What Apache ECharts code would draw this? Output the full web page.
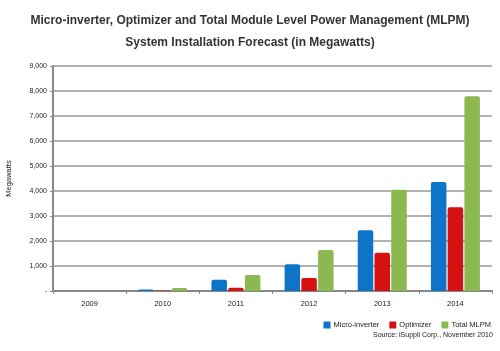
<!DOCTYPE html>
<html><head><meta charset="utf-8">
<script src="https://cdn.jsdelivr.net/npm/echarts@6/dist/echarts.min.js"></script>
<style>html,body{margin:0;padding:0;background:#fff}#c{width:500px;height:351px}</style>
</head><body><div id="c"></div>
<script>
const categories = ['2009','2010','2011','2012','2013','2014'];
const microInverter = [0, 60, 450, 1070, 2430, 4360];
const optimizer = [0, 20, 130, 520, 1530, 3350];
const totalMLPM = [0, 120, 640, 1640, 4050, 7790];
const yTicks = [0, 1000, 2000, 3000, 4000, 5000, 6000, 7000, 8000, 9000];

const chart = echarts.init(document.getElementById('c'), null, {renderer:'canvas'});
const FONT = 'Liberation Sans, Arial, sans-serif';
chart.setOption({
  animation: false,
  backgroundColor: '#fff',
  title: {
    text: 'Micro-inverter, Optimizer and Total Module Level Power Management (MLPM)\nSystem Installation Forecast (in Megawatts)',
    left: 'center', top: 5,
    textStyle: {fontFamily: FONT, fontSize: 12, fontWeight: 'bold', color: '#333', lineHeight: 22}
  },
  legend: {
    right: 4, top: 316, itemWidth: 7, itemHeight: 7, itemGap: 10,
    icon: 'rect',
    textStyle: {fontFamily: FONT, fontSize: 7.5, color: '#222', padding: [0,0,0,-2]},
    data: ['Micro-inverter','Optimizer','Total MLPM']
  },
  graphic: [{
    type: 'text', left: 373, top: 332,
    style: {text: 'Source: iSuppli Corp., November 2010', font: '7px ' + FONT, fill: '#222'}
  }],
  grid: {left: 53, right: 8, top: 66, bottom: 60, containLabel: false, outerBoundsMode: 'none'},
  xAxis: {
    type: 'category', data: categories,
    axisLine: {lineStyle: {color: '#888', width: 2}},
    axisTick: {show: true, length: 3, lineStyle: {color: '#888'}},
    axisLabel: {fontFamily: FONT, fontSize: 7.5, color: '#222', margin: 9}
  },
  yAxis: {
    type: 'value', min: 0, max: 9000, interval: 1000,
    name: 'Megawatts', nameLocation: 'middle', nameGap: 40, nameRotate: 90,
    nameTextStyle: {fontFamily: FONT, fontSize: 7.5, color: '#222'},
    axisLine: {show: true, lineStyle: {color: '#888', width: 2}},
    axisTick: {show: true, length: 3, lineStyle: {color: '#888'}},
    axisLabel: {fontFamily: FONT, fontSize: 7, color: '#222', margin: 6,
      formatter: v => v === 0 ? '-' : v.toLocaleString('en-US')},
    splitLine: {lineStyle: {color: '#999', width: 1.5}}
  },
  series: [
    {name: 'Micro-inverter', type: 'bar', data: microInverter, barWidth: 15.5, barGap: '8%',
     itemStyle: {color: '#0e74c8', borderRadius: [2,2,0,0]}},
    {name: 'Optimizer', type: 'bar', data: optimizer, barWidth: 15.5, barGap: '8%',
     itemStyle: {color: '#d61112', borderRadius: [2,2,0,0]}},
    {name: 'Total MLPM', type: 'bar', data: totalMLPM, barWidth: 15.5, barGap: '8%',
     itemStyle: {color: '#8cb850', borderRadius: [2,2,0,0]}}
  ]
});
</script></body></html>
